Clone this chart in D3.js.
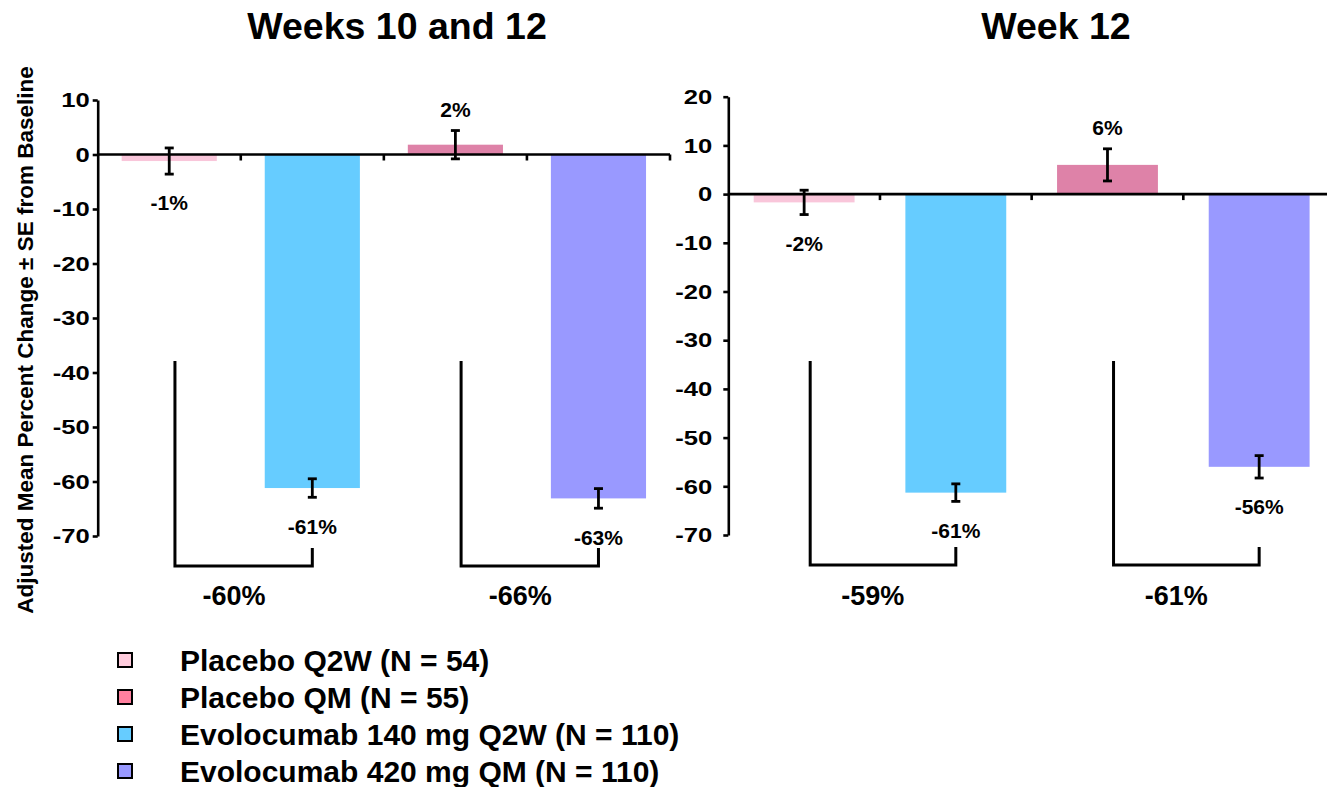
<!DOCTYPE html>
<html>
<head>
<meta charset="utf-8">
<script src="https://cdn.jsdelivr.net/npm/d3@7/dist/d3.min.js"></script>
<style>
	body { margin: 0; background: #fff; }
	text { font-family: Arial, 'Liberation Sans', sans-serif; font-weight: bold; fill: #000; }
</style>
</head>
<body>
<div id="chart"></div>
<script>
'use strict';
// groups in the order they appear along each x axis
var groups = ['Placebo Q2W', 'Evolocumab 140 mg Q2W', 'Placebo QM', 'Evolocumab 420 mg QM'];
var barColors = ['#f9c6da', '#66ccff', '#de82a8', '#9999ff'];

var wk1012Means = [-1.2, -61.2, 1.8, -63.1];
var wk1012SE = [2.4, 1.7, 2.6, 1.8];
var wk1012Labels = ['-1%', '-61%', '2%', '-63%'];
var wk1012Diff = ['-60%', '-66%'];
var wk1012Ticks = [10, 0, -10, -20, -30, -40, -50, -60, -70];

var wk12Means = [-1.7, -61.3, 6.0, -56.0];
var wk12SE = [2.5, 1.8, 3.3, 2.3];
var wk12Labels = ['-2%', '-61%', '6%', '-56%'];
var wk12Diff = ['-59%', '-61%'];
var wk12Ticks = [20, 10, 0, -10, -20, -30, -40, -50, -60, -70];

var legendNames = ['Placebo Q2W (N = 54)', 'Placebo QM (N = 55)', 'Evolocumab 140 mg Q2W (N = 110)', 'Evolocumab 420 mg QM (N = 110)'];
var legendColors = ['#ffccdd', '#ff809f', '#66ccff', '#9999ff'];

var svg = d3.select('#chart')
	.append('svg')
	.attr('width', 1327)
	.attr('height', 787);

function drawPanel(opt) {
	var x = d3.scaleBand()
		.domain(groups)
		.range([opt.left, opt.right])
		.paddingInner(0.335)
		.paddingOuter(0.1675);
	var y = d3.scaleLinear()
		.domain([-70, opt.max])
		.range([opt.bottom, opt.top]);
	var g = svg.append('g');
	var bw = x.bandwidth();
	var step = x.step();

	var rows = groups.map(function (name, i) {
		return {name: name, mean: opt.means[i], se: opt.se[i], label: opt.labels[i], color: barColors[i]};
	});

	g.selectAll('rect.bar')
		.data(rows)
		.enter().append('rect')
		.attr('class', 'bar')
		.attr('x', function (d) { return x(d.name); })
		.attr('width', bw)
		.attr('y', function (d) { return y(Math.max(0, d.mean)); })
		.attr('height', function (d) { return Math.abs(y(d.mean) - y(0)); })
		.attr('fill', function (d) { return d.color; });

	// y axis, plain hyphen for negatives
	var yAxis = g.append('g')
		.attr('transform', 'translate(' + opt.left + ',0)')
		.call(d3.axisLeft(y)
			.tickValues(opt.ticks)
			.tickFormat(function (d) { return String(d); })
			.tickSize(5).tickSizeOuter(0).tickPadding(opt.pad));
	yAxis.select('.domain').attr('stroke', '#000').attr('stroke-width', 2.6);
	yAxis.selectAll('.tick line').attr('stroke', '#000').attr('stroke-width', 2.6);
	yAxis.selectAll('.tick text')
		.style('font-size', '21px')
		.style('font-family', 'Arial, "Liberation Sans", sans-serif')
		.style('font-weight', 'bold')
		.attr('transform', function () {
			var tx = +d3.select(this).attr('x');
			return 'translate(' + tx + ',0) scale(1.22,1) translate(' + (-tx) + ',0)';
		});

	// zero line with category separators
	var z = y(0);
	g.append('line')
		.attr('x1', opt.left).attr('x2', opt.right)
		.attr('y1', z).attr('y2', z)
		.attr('stroke', '#000').attr('stroke-width', 2.6);
	g.selectAll('line.sep')
		.data(d3.range(1, groups.length + 1))
		.enter().append('line')
		.attr('class', 'sep')
		.attr('x1', function (i) { return opt.left + i * step; })
		.attr('x2', function (i) { return opt.left + i * step; })
		.attr('y1', z).attr('y2', z + 6)
		.attr('stroke', '#000').attr('stroke-width', 2.6);

	// error bars
	var eb = g.selectAll('g.err')
		.data(rows)
		.enter().append('g')
		.attr('class', 'err')
		.attr('transform', function (d) { return 'translate(' + (x(d.name) + bw / 2) + ',0)'; });
	eb.append('line')
		.attr('y1', function (d) { return y(d.mean + d.se); })
		.attr('y2', function (d) { return y(d.mean - d.se); })
		.attr('stroke', '#000').attr('stroke-width', 2.8);
	eb.append('line')
		.attr('x1', -4.5).attr('x2', 4.5)
		.attr('y1', function (d) { return y(d.mean + d.se); })
		.attr('y2', function (d) { return y(d.mean + d.se); })
		.attr('stroke', '#000').attr('stroke-width', 2.8);
	eb.append('line')
		.attr('x1', -4.5).attr('x2', 4.5)
		.attr('y1', function (d) { return y(d.mean - d.se); })
		.attr('y2', function (d) { return y(d.mean - d.se); })
		.attr('stroke', '#000').attr('stroke-width', 2.8);
	eb.append('text')
		.attr('text-anchor', 'middle')
		.attr('dy', '0.35em')
		.style('font-size', '21px')
		.attr('y', function (d) {
			return d.mean >= 0 ? y(d.mean + d.se) - 21 : y(d.mean - d.se) + 29;
		})
		.text(function (d) { return d.label; });

	// treatment difference brackets
	var pairs = [[groups[0], groups[1], opt.diff[0]], [groups[2], groups[3], opt.diff[1]]];
	var bTop = 361, bBot = opt.bottom + 30, bArm = opt.bottom + 12;
	pairs.forEach(function (p) {
		var xa = x(p[0]) + bw / 2 + bw * 0.06;
		var xb = x(p[1]) + bw / 2;
		g.append('path')
			.attr('d', 'M' + xa + ',' + bTop + 'V' + bBot + 'H' + xb + 'V' + bArm)
			.attr('fill', 'none')
			.attr('stroke', '#000')
			.attr('stroke-width', 3);
		g.append('text')
			.attr('x', xa + (xb - xa) * 0.43)
			.attr('y', 605)
			.attr('text-anchor', 'middle')
			.style('font-size', '27px')
			.text(p[2]);
	});

	svg.append('text')
		.attr('x', opt.titleX)
		.attr('y', 39)
		.attr('text-anchor', 'middle')
		.style('font-size', '37.5px')
		.text(opt.title);
}

drawPanel({
	left: 97.7, right: 670, top: 100, bottom: 536, max: 10, pad: 3,
	means: wk1012Means, se: wk1012SE, labels: wk1012Labels, diff: wk1012Diff, ticks: wk1012Ticks,
	title: 'Weeks 10 and 12', titleX: 397
});
drawPanel({
	left: 728.3, right: 1335, top: 96.7, bottom: 535, max: 20, pad: 11,
	means: wk12Means, se: wk12SE, labels: wk12Labels, diff: wk12Diff, ticks: wk12Ticks,
	title: 'Week 12', titleX: 1056
});

// y axis title
svg.append('text')
	.attr('transform', 'translate(33,340) rotate(-90)')
	.attr('text-anchor', 'middle')
	.style('font-size', '22.5px')
	.text('Adjusted Mean Percent Change \u00b1 SE from Baseline');

// legend
var leg = svg.selectAll('g.leg')
	.data(legendNames)
	.enter().append('g')
	.attr('class', 'leg')
	.attr('transform', function (d, i) { return 'translate(0,' + (660 + i * 37) + ')'; });
leg.append('rect')
	.attr('x', 118).attr('y', -7)
	.attr('width', 14).attr('height', 14)
	.attr('fill', function (d, i) { return legendColors[i]; })
	.attr('stroke', '#000').attr('stroke-width', 2);
leg.append('text')
	.attr('x', 180)
	.attr('dy', '0.36em')
	.style('font-size', '30px')
	.text(function (d) { return d; });
</script>
</body>
</html>
